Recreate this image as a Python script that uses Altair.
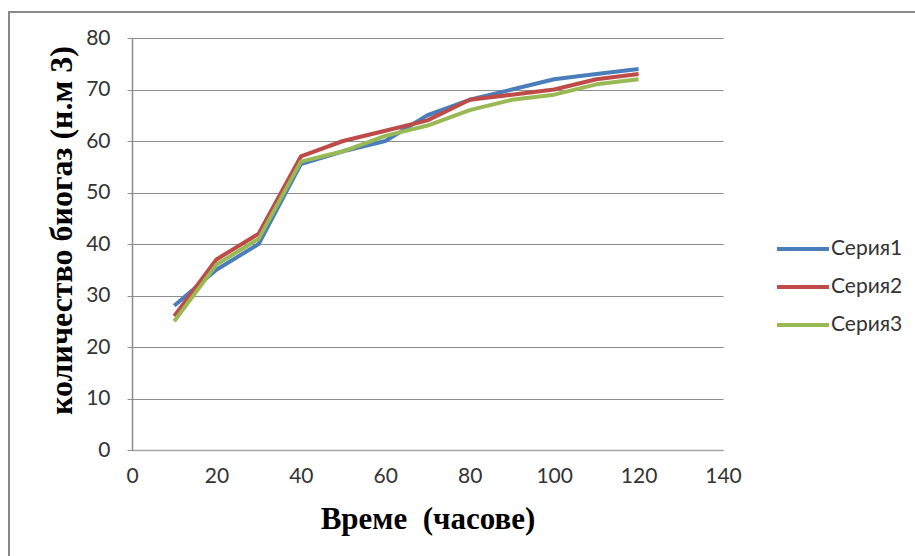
import altair as alt
import pandas as pd

hours = [10, 20, 30, 40, 50, 60, 70, 80, 90, 100, 110, 120]
series_names = ["Серия1", "Серия2", "Серия3"]
s1 = [28, 35, 40, 55.5, 58, 60, 65, 68, 70, 72, 73, 74]
s2 = [26, 37, 42, 57, 60, 62, 64, 68, 69, 70, 72, 73]
s3 = [25, 36, 41, 56, 58, 61, 63, 66, 68, 69, 71, 72]
colors = ["#4A7EBB", "#BE4B48", "#98B954"]

x_ticks = [0, 20, 40, 60, 80, 100, 120, 140]
y_ticks = [0, 10, 20, 30, 40, 50, 60, 70, 80]

rows = []
for name, vals in zip(series_names, [s1, s2, s3]):
    for h, v in zip(hours, vals):
        rows.append({"hours": h, "value": v, "series": name})
df = pd.DataFrame(rows)

W, H = 591, 412
PAD_L, PAD_T = 132, 38

frame = alt.Chart(pd.DataFrame({"k": [0]})).mark_rect(
    fill="white", fillOpacity=0, stroke="#898989", strokeWidth=2, clip=False
).encode(
    x=alt.value(9 - PAD_L),
    x2=alt.value(1200),
    y=alt.value(12 - PAD_T),
    y2=alt.value(900),
)

lines = alt.Chart(df).mark_line(strokeWidth=4, strokeJoin="round").encode(
    x=alt.X(
        "hours:Q",
        scale=alt.Scale(domain=[0, 140], nice=False, zero=False),
        axis=alt.Axis(
            values=x_ticks,
            grid=False,
            title="Време \u00a0(часове)",
            titleFont="Liberation Serif",
            titleFontWeight="bold",
            titleFontSize=31,
            titleColor="#000000",
            titleBaseline="alphabetic",
            titleY=78,
            labelFont="Lato",
            labelFontSize=21,
            labelColor="#333333",
            labelPadding=15,
            labelFlush=False,
            labelOverlap=False,
            tickSize=0,
            domainColor="#A6A6A6",
            domainWidth=1.5,
        ),
    ),
    y=alt.Y(
        "value:Q",
        scale=alt.Scale(domain=[0, 80], nice=False),
        axis=alt.Axis(
            values=y_ticks,
            grid=True,
            gridColor="#8C8C8C",
            gridWidth=1,
            title="количество биогаз (н.м 3)",
            titleFont="Liberation Serif",
            titleFontWeight="bold",
            titleFontSize=32,
            titleColor="#000000",
            titleAngle=270,
            titleAlign="center",
            titleBaseline="alphabetic",
            titleX=-61,
            titleY=192,
            labelFont="Lato",
            labelFontSize=21,
            labelColor="#333333",
            labelPadding=17,
            labelFlush=False,
            tickSize=5,
            tickColor="#8C8C8C",
            domainColor="#8C8C8C",
            domainWidth=1.5,
        ),
    ),
    color=alt.Color(
        "series:N",
        scale=alt.Scale(domain=series_names, range=colors),
        legend=alt.Legend(
            title=None,
            orient="none",
            legendX=643,
            legendY=183,
            symbolType="stroke",
            symbolSize=2700,
            symbolStrokeWidth=4,
            labelFont="Lato",
            labelFontSize=21,
            labelColor="#333333",
            labelOffset=0,
            rowPadding=-2.5,
        ),
    ),
)

chart = alt.layer(frame, lines).properties(
    width=W,
    height=H,
    autosize=alt.AutoSizeParams(type="none"),
    padding={"left": PAD_L, "top": PAD_T, "right": 915 - PAD_L - W, "bottom": 556 - PAD_T - H},
    background="white",
).configure_view(stroke=None)

chart.save("out.html", embed_options={"renderer": "svg", "actions": False})
